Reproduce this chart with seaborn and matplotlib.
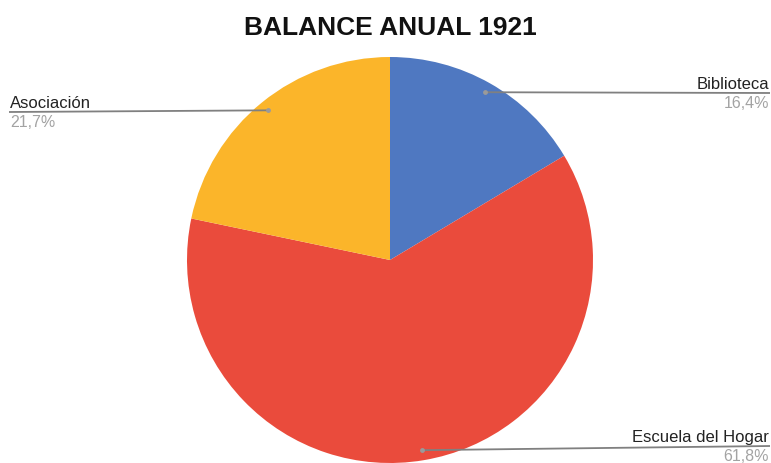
import numpy as np
import matplotlib
matplotlib.use("Agg")
import matplotlib.pyplot as plt
import seaborn as sns

# Data
categories = ["Biblioteca", "Escuela del Hogar", "Asociación"]
shares = [16.4, 61.8, 21.7]
title = "BALANCE ANUAL 1921"

sns.set_theme(style="white")
plt.rcParams["font.family"] = ["Liberation Sans", "DejaVu Sans"]

colors = sns.color_palette(["#4f78c1", "#ea4b3c", "#fbb52a"])

W, H = 771, 463
fig = plt.figure(figsize=(W / 100, H / 100), dpi=100)
ax = fig.add_axes([0, 0, 1, 1])

cx, cy, r = 390, H - 260, 203
wedges, _ = ax.pie(shares, colors=colors, startangle=90, counterclock=False,
                   center=(cx, cy), radius=r,
                   wedgeprops=dict(linewidth=0, antialiased=True))
ax.set_xlim(0, W)
ax.set_ylim(0, H)
ax.set_aspect("equal")
ax.axis("off")

# label layout: (text x, alignment, y of leader line end in pixels from top)
layout = {
    "Biblioteca": (769, "right", 93),
    "Escuela del Hogar": (769, "right", 446),
    "Asociación": (10, "left", 112),
}

total = sum(shares)
cum = 0.0
for name, v in zip(categories, shares):
    mid = 90 - 360 * (cum + v / 2) / total
    cum += v
    t = np.deg2rad(mid)
    dx, dy = cx + 0.95 * r * np.cos(t), cy + 0.95 * r * np.sin(t)
    tx, ha, ly = layout[name]
    ly = H - ly
    ax.plot([dx, tx + (1 if ha == "right" else -1)], [dy, ly],
            color="#808080", lw=1.3, solid_capstyle="butt", zorder=3)
    ax.plot(dx, dy, "o", ms=3.5, color="#9a9a9a", mec="none", zorder=4)
    ax.text(tx, ly + 4, name, ha=ha, va="baseline", fontsize=12,
            color="#222222")
    ax.text(tx, ly - 3, f"{v:.1f}%".replace(".", ","), ha=ha, va="top",
            fontsize=11.5, color="#a3a3a3")

ax.text(390, H - 28, title, ha="center", va="center", fontsize=19,
        fontweight="bold", color="#111111")

fig.savefig("out.png", dpi=100, facecolor="white")
